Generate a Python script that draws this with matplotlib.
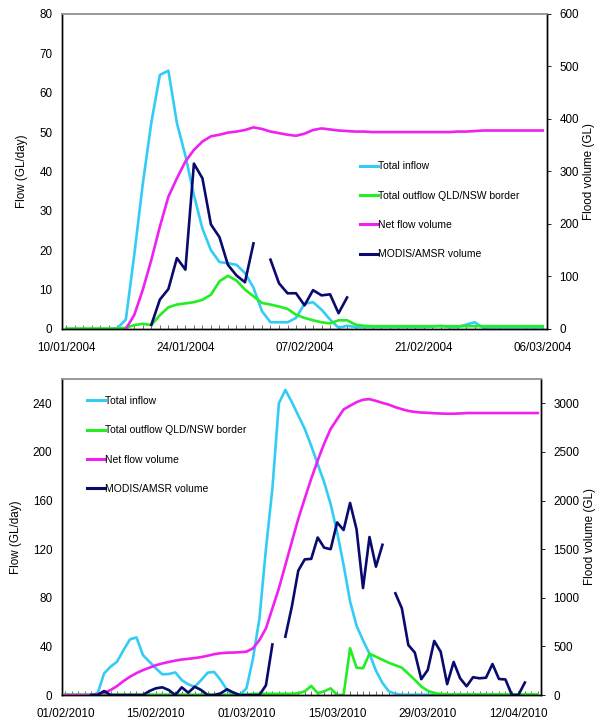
import numpy as np
import pandas as pd
import matplotlib
matplotlib.use("Agg")
import matplotlib.pyplot as plt

plt.rcParams['font.family'] = ['Liberation Sans', 'DejaVu Sans']

nan = np.nan

# ---- 2004 event (57 days from 10/01/2004) ----
start_2004 = "2004-01-10"
inflow_2004 = [0, 0, 0, 0, 0, 0, 0.2, 2.4, 19, 37, 52.5, 64.5, 65.6, 52.3, 44, 34,
               25.5, 20, 17, 16.7, 16.3, 14.2, 10.5, 4.5, 1.7, 1.7, 1.7, 2.8, 6.4, 6.8,
               4.9, 2.4, 0.3, 0.8, 0.5, 0.5, 0.5, 0.5, 0.5, 0.5, 0.5, 0.5, 0.5, 0.6, 0.8,
               0.5, 0.5, 1.1, 1.7, 0.3, 0.4, 0.4, 0.4, 0.4, 0.4, 0.4, 0.4]
outflow_2004 = [0.1, 0.1, 0.1, 0.1, 0.1, 0.1, 0.1, 0.3, 1.0, 1.3, 1.0, 3.5, 5.5, 6.2, 6.5,
                6.8, 7.4, 8.7, 12.1, 13.5, 12.3, 10.0, 8.3, 6.6, 6.2, 5.7, 5.1, 3.6, 2.8,
                2.2, 1.7, 1.4, 2.2, 2.2, 1.1, 0.8, 0.7, 0.7, 0.7, 0.7, 0.7, 0.7, 0.7, 0.7,
                0.7, 0.7, 0.7, 0.7, 0.7, 0.7, 0.7, 0.7, 0.7, 0.7, 0.7, 0.7, 0.7]
netvol_2004 = [nan, nan, nan, nan, nan, nan, nan, 0, 27, 75, 132, 195, 252, 287, 319, 341,
               357, 367, 370, 374, 376, 379, 384, 381, 376, 373, 370, 368, 372, 379, 382,
               380, 378, 377, 376, 376, 375, 375, 375, 375, 375, 375, 375, 375, 375, 375,
               376, 376, 377, 378, 378, 378, 378, 378, 378, 378, 378]
modis_2004 = [nan] * 10 + [8, 56, 76, 135, 113, 315, 287, 199, 175, 122, 102, 89, 163, nan,
                           132, 87, 68, 68, 45, 74, 64, 66, 30, 60] + [nan] * 23

# ---- 2010 event (74 days from 01/02/2010) ----
start_2010 = "2010-02-01"
inflow_2010 = [0, 0, 0, 0, 0, 1.4, 17.8, 23.3, 27.4, 37, 45.8, 47.4, 32.9, 27.4, 21.9, 17,
               17.3, 18.6, 12.3, 8.8, 6.8, 12.3, 18.4, 19, 12.3, 4.1, 0.3, 0.3, 5.5, 30, 63,
               120, 170, 240, 251, 241, 230, 219, 205, 190, 175, 157, 134, 107, 77, 57, 45,
               34, 20, 10, 3, 1] + [0.3] * 22
outflow_2010 = [0.3] * 29 + [1.0] * 7 + [1.5, 3, 7.5, 1.5, 3, 5.5, 0, 0, 38.5, 22.5, 22, 34,
                                          31.5, 29, 26.5, 24.5, 22.5, 17.5, 12.5, 7, 3.5, 1.6,
                                          0.8] + [0.5] * 15
netvol_2010 = [0, 0, 0, 0, 0, 10, 24, 51, 92, 144, 188, 225, 256, 281, 306, 325, 340, 354,
               365, 372, 380, 390, 404, 420, 430, 435, 437, 440, 446, 480, 565, 685, 891,
               1096, 1336, 1575, 1812, 2021, 2225, 2412, 2586, 2737, 2837, 2937, 2975, 3012,
               3037, 3043, 3025, 3005, 2986, 2960, 2940, 2922, 2912, 2905, 2902, 2898, 2895,
               2893, 2893, 2896] + [2900] * 12
modis_2010 = [nan] * 4 + [0, 0, 41, 0, 0, 0, 0, 0, 0, 41, 69, 79, 51, 0, 79, 24, 85, 51, 0,
                          0, 17, 59, 24, 0, 0, 0, 0, 100, 520, nan, 600, 908, 1280, 1395, 1400,
                          1620, 1515, 1500, 1775, 1697, 1975, 1705, 1100, 1625, 1320, 1545, nan,
                          1046, 892, 514, 437, 163, 257, 556, 445, 112, 340, 172, 90, 183, 172,
                          178, 319, 165, 160, 0, 0, 128] + [nan] * 2

labels = ["Total inflow", "Total outflow QLD/NSW border", "Net flow volume", "MODIS/AMSR volume"]
colors = ["#33CCF5", "#22EE22", "#F020F0", "#0A0A6E"]


def panel(fig, rect, start, flows, vols, ylim, yticks, y2lim, y2ticks, leg_anchor):
    ax = fig.add_axes(rect)
    ax2 = ax.twinx()
    n = len(flows[0])
    dates = pd.date_range(start, periods=n, freq="D")
    lw = 1.9
    ax.plot(dates, flows[0], color=colors[0], lw=lw)
    ax.plot(dates, flows[1], color=colors[1], lw=lw)
    ax2.plot(dates, vols[0], color=colors[2], lw=lw)
    ax2.plot(dates, vols[1], color=colors[3], lw=lw)

    half = pd.Timedelta(hours=12)
    ax.set_xlim(dates[0] - half, dates[-1] + half)
    ax.set_ylim(*ylim)
    ax.set_yticks(yticks)
    ax2.set_ylim(*y2lim)
    ax2.set_yticks(y2ticks)

    ax.set_xticks(dates[::14])
    ax.set_xticklabels([d.strftime("%d/%m/%Y") for d in dates[::14]])
    ax.set_xticks(dates, minor=True)
    ax.tick_params(axis="x", which="both", direction="in", length=3, width=0.6,
                   color="#555555", pad=9.5, labelsize=8.4)
    ax.tick_params(axis="y", length=0, pad=7, labelsize=8.4)
    ax2.tick_params(axis="y", direction="out", length=3, width=0.6, pad=6, labelsize=8.4)

    ax.set_ylabel("Flow (GL/day)", fontsize=8.4, labelpad=8)
    ax2.set_ylabel("Flood volume (GL)", fontsize=8.4, labelpad=3)

    for a in (ax, ax2):
        a.spines["top"].set_color("#999999")
        a.spines["top"].set_linewidth(1.2)
        a.spines["left"].set_linewidth(1.0)
        a.spines["bottom"].set_linewidth(1.0)
        a.spines["right"].set_linewidth(1.0)

    handles = [plt.Line2D([], [], color=c, lw=2.2) for c in colors]
    ax2.legend(handles, labels, loc="upper left", bbox_to_anchor=leg_anchor,
               frameon=False, fontsize=7.5, handlelength=1.7, handletextpad=0.0,
               labelspacing=1.85, borderpad=0, borderaxespad=0)
    return ax, ax2


fig = plt.figure(figsize=(6.01, 7.2), dpi=100)

panel(fig, [0.1032, 0.5431, 0.807, 0.4375], start_2004,
      (inflow_2004, outflow_2004), (netvol_2004, modis_2004),
      (0, 80), range(0, 81, 10), (0, 600), range(0, 601, 100), (0.614, 0.532))

panel(fig, [0.1032, 0.0347, 0.797, 0.4389], start_2010,
      (inflow_2010, outflow_2010), (netvol_2010, modis_2010),
      (0, 260), range(0, 241, 40), (0, 3250), range(0, 3001, 500), (0.052, 0.946))

fig.savefig("out.png", dpi=100)
